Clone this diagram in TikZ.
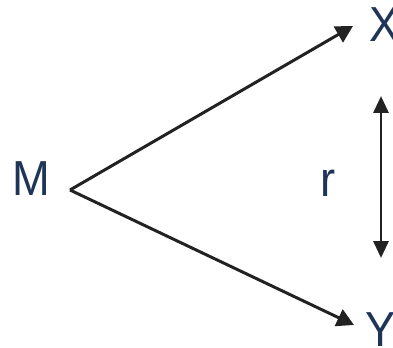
\documentclass[tikz,border=0pt]{standalone}
\usepackage{fontspec}
\setmainfont{Liberation Sans}
\usetikzlibrary{arrows.meta,positioning}
\definecolor{navy}{HTML}{1F3558}
\definecolor{ink}{HTML}{222222}

\begin{document}
\begin{tikzpicture}[x=0.02cm,y=-0.02cm,
  lbl/.style={text=navy, font=\fontsize{28}{30}\selectfont, inner sep=0pt, xscale=0.92},
  arr/.style={ink, line width=1.7pt, -{Triangle[length=0.34cm,width=0.36cm]}},
  darr/.style={ink, line width=1.7pt, {Triangle[length=0.34cm,width=0.3cm]}-{Triangle[length=0.34cm,width=0.3cm]}}]
  \useasboundingbox (0,0) rectangle (393,348);
  \node[lbl] (M) at (31,179) {M};
  \node[lbl] (X) at (385,25) {X};
  \node[lbl] (Y) at (381,330) {Y};
  \node[lbl] (r) at (328,183) {r};
  \coordinate (apex) at (70,190);
  \coordinate (xtip) at (353,26);
  \coordinate (ytip) at (354,325);
  \coordinate (top) at (381,96);
  \coordinate (bot) at (381,258);
  \draw[arr] (apex) -- (xtip);
  \draw[arr] (apex) -- (ytip);
  \draw[darr] (top) -- (bot);
\end{tikzpicture}
\end{document}
